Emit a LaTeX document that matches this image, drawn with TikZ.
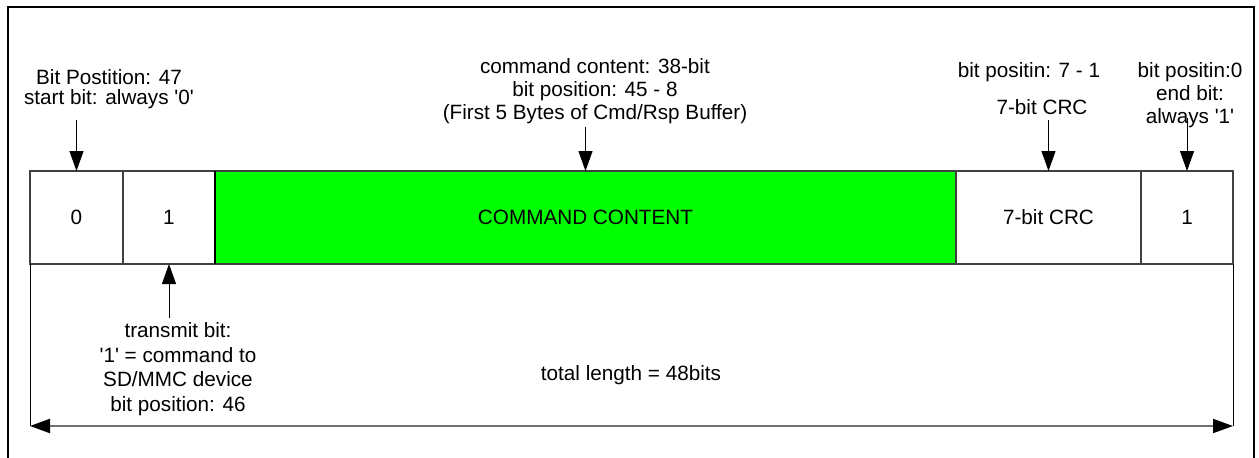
\documentclass[tikz,border=0pt]{standalone}
\usepackage{fontspec}
\setmainfont{Liberation Sans}[Ligatures=TeXOff]
\usetikzlibrary{arrows.meta}
\definecolor{boxline}{HTML}{404040}
\definecolor{cmdgreen}{HTML}{00FF00}
\definecolor{dimline}{HTML}{707070}
\tikzset{
  field/.style={draw=boxline, line width=1.5pt, fill=white, inner sep=0pt, outer sep=0pt,
    minimum height=93pt, font=\fontsize{20.7}{23}\selectfont},
  lbl/.style={align=center, inner sep=0pt, font=\fontsize{20.7}{23}\selectfont},
  arr/.style={line width=1pt, -{Triangle[width=14pt,length=20pt]}},
  dimarr/.style={draw=dimline, line width=2pt,
    {Triangle[width=14pt,length=20pt,color=black]}-{Triangle[width=14pt,length=20pt,color=black]}},
  frameline/.style={line width=2.5pt, black}
}
\begin{document}
\begin{tikzpicture}[x=1pt,y=-1pt]
\useasboundingbox (0,0) rectangle (1259,458);
% outer frame (open at bottom)
\draw[frameline] (8,458) -- (8,7) -- (1254,7) -- (1254,458);

% fields
\node[field, minimum width=93pt]  (b0)  at (76.5,217.5) {0};
\node[field, minimum width=92pt]  (b1)  at (169,217.5) {1};
\node[field, minimum width=741pt, fill=cmdgreen] (cc) at (585.5,217.5) {COMMAND CONTENT};
\node[field, minimum width=185pt] (crc) at (1048.5,217.5) {7-bit CRC};
\node[field, minimum width=92pt]  (b2)  at (1187,217.5) {1};
\draw[black, line width=2pt] (cc.north west) -- (cc.south west);

% labels
\node[lbl, font=\fontsize{20.7}{20.5}\selectfont] (l0) at (109,89) {Bit Postition: 47\\start bit: always '0'};
\node[lbl] (lcc) at (595,91) {command content: 38-bit\\bit position: 45 - 8\\(First 5 Bytes of Cmd/Rsp Buffer)};
\node[lbl] (lcrc1) at (1029,72) {bit positin: 7 - 1};
\node[lbl] (lcrc2) at (1042,107) {7-bit CRC};
\node[lbl] (lend) at (1190,95) {bit positin:0\\end bit:\\always '1'};
\node[lbl, font=\fontsize{20.7}{24.7}\selectfont] (ltx) at (178,369) {transmit bit:\\'1' = command to\\SD/MMC device\\bit position: 46};
\node[lbl] (ltot) at (631,375) {total length = 48bits};

% arrows
\coordinate (a0) at (76.5,120);
\coordinate (acc) at (585.5,127);
\coordinate (acrc) at (1048.5,120);
\coordinate (aend) at (1187,118);
\coordinate (atx) at (169,318);
\draw[arr] (a0) -- (b0.north);
\draw[arr] (acc) -- (cc.north);
\draw[arr] (acrc) -- (crc.north);
\draw[arr] (aend) -- (b2.north);
\draw[arr] (atx) -- (b1.south);

% total length dimension
\coordinate (L) at (30,426);
\coordinate (R) at (1233,426);
\draw[line width=1pt] (b0.south west) -- (L);
\draw[line width=1pt] (b2.south east) -- (R);
\draw[dimarr] (L) -- (R);
\end{tikzpicture}
\end{document}
